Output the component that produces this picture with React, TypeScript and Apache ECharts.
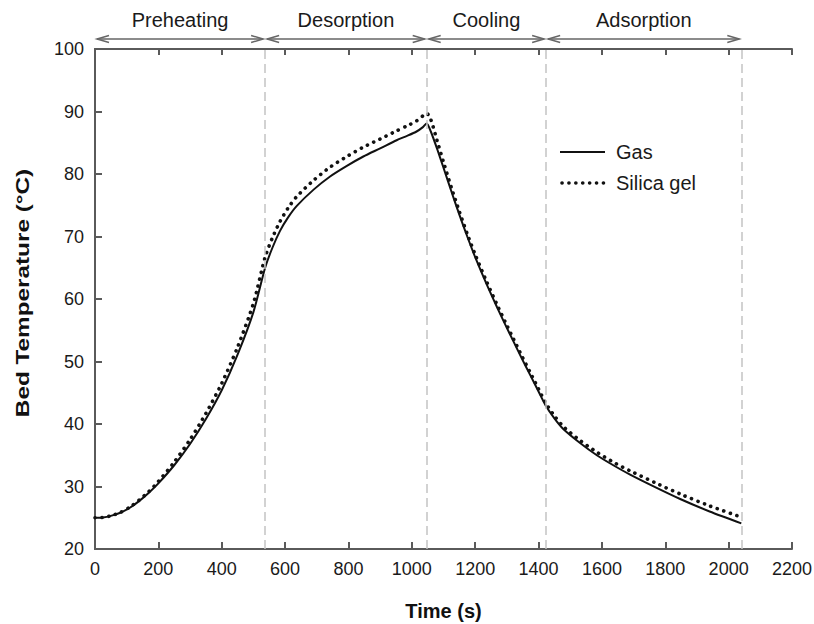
import React, { useEffect, useRef } from "react";
import * as echarts from "echarts";

const times = [0, 25, 50, 80, 110, 140, 170, 200, 250, 300, 350, 400, 450, 500, 537, 560, 584, 610, 637, 690, 742, 795, 847, 900, 952, 985, 1015, 1035, 1047, 1060, 1080, 1100, 1125, 1150, 1175, 1200, 1235, 1268, 1295, 1320, 1347, 1373, 1400, 1422, 1450, 1478, 1530, 1584, 1636, 1689, 1768, 1847, 1940, 2040];
const gasTemp = [25.0, 25.05, 25.3, 25.8, 26.6, 27.7, 29.0, 30.5, 33.4, 36.8, 40.8, 45.4, 51.1, 57.9, 65.0, 68.2, 70.9, 73.1, 74.9, 77.5, 79.6, 81.3, 82.8, 84.1, 85.4, 86.1, 86.8, 87.5, 88.1, 86.8, 84.0, 81.0, 77.2, 73.5, 70.0, 66.7, 62.5, 58.8, 55.9, 53.3, 50.5, 47.9, 45.2, 43.0, 40.9, 39.2, 37.0, 35.0, 33.4, 31.9, 29.9, 28.0, 26.0, 24.1];
const silicaTemp = [25.0, 25.05, 25.3, 25.85, 26.7, 27.85, 29.2, 30.8, 33.9, 37.5, 41.7, 46.5, 52.3, 59.3, 66.7, 69.8, 72.4, 74.6, 76.4, 79.0, 81.1, 82.8, 84.3, 85.6, 86.9, 87.7, 88.5, 89.3, 89.7, 88.7, 85.3, 81.9, 77.8, 74.0, 70.4, 67.1, 62.9, 59.2, 56.3, 53.7, 50.9, 48.3, 45.6, 43.4, 41.3, 39.6, 37.4, 35.5, 33.9, 32.5, 30.6, 28.8, 26.9, 25.1];

const phaseNames = ["Preheating", "Desorption", "Cooling", "Adsorption"];
const phaseBounds = [0, 537, 1047, 1424, 2040];

const seriesNames = ["Gas", "Silica gel"];
const xTitle = "Time (s)";
const yTitle = "Bed Temperature (°C)";
const FONT = "'Liberation Sans', Arial, Helvetica, sans-serif";
const AXIS_COLOR = "#5a5a5a";

export default function App() {
  const ref = useRef<HTMLDivElement>(null);
  useEffect(() => {
    if (!ref.current) return;
    const chart = echarts.init(ref.current, undefined, { renderer: "svg" });
    const gasData = times.map((t, i) => [t, gasTemp[i]]);
    const silicaData = times.map((t, i) => [t, silicaTemp[i]]);
    const phaseData = phaseNames.map((_, i) => [phaseBounds[i], phaseBounds[i + 1], i]);

    const axisLine = { show: true, lineStyle: { color: AXIS_COLOR, width: 2 } };
    const legendX = 560;
    const legendY = [152, 183];
    const option: any = {
      animation: false,
      backgroundColor: "#ffffff",
      textStyle: { fontFamily: FONT },
      grid: { left: 95, right: 22, top: 49, bottom: 75, outerBoundsMode: "none" },
      graphic: [
        { type: "line", shape: { x1: legendX, y1: legendY[0], x2: legendX + 45, y2: legendY[0] }, style: { stroke: "#111", lineWidth: 2 } },
        {
          type: "line",
          shape: { x1: legendX + 2, y1: legendY[1], x2: legendX + 45, y2: legendY[1] },
          style: { stroke: "#111", lineWidth: 3.6, lineDash: [0.1, 6.8], lineCap: "round" },
        },
        { type: "text", x: legendX + 56, y: legendY[0], style: { text: seriesNames[0], fontSize: 20, fill: "#1a1a1a", verticalAlign: "middle", fontFamily: FONT } },
        { type: "text", x: legendX + 56, y: legendY[1], style: { text: seriesNames[1], fontSize: 20, fill: "#1a1a1a", verticalAlign: "middle", fontFamily: FONT } },
        {
          type: "text",
          x: 22,
          y: 293,
          rotation: Math.PI / 2,
          scaleX: 1.28,
          style: { text: yTitle, fontSize: 19, fontWeight: "bold", fill: "#111", align: "center", verticalAlign: "middle", fontFamily: FONT },
        },
      ],
      xAxis: [
        {
          type: "value",
          min: 0,
          max: 2200,
          interval: 200,
          position: "bottom",
          axisLine,
          axisTick: { show: true, inside: true, length: 7, lineStyle: { color: AXIS_COLOR, width: 2 } },
          axisLabel: { fontSize: 18, color: "#1a1a1a", margin: 11, fontFamily: FONT, formatter: (v: number) => String(v) },
          splitLine: { show: false },
          name: xTitle,
          nameLocation: "middle",
          nameGap: 52,
          nameTextStyle: { fontSize: 20, fontWeight: "bold", color: "#111", fontFamily: FONT },
        },
        {
          type: "value",
          min: 0,
          max: 2200,
          interval: 200,
          position: "top",
          axisLine,
          axisTick: { show: true, inside: true, length: 6, lineStyle: { color: AXIS_COLOR, width: 2 } },
          axisLabel: { show: false },
          splitLine: { show: false },
        },
      ],
      yAxis: [
        {
          type: "value",
          min: 20,
          max: 100,
          interval: 10,
          position: "left",
          axisLine,
          axisTick: { show: true, inside: true, length: 7, lineStyle: { color: AXIS_COLOR, width: 2 } },
          axisLabel: { fontSize: 18, color: "#1a1a1a", margin: 11, fontFamily: FONT, formatter: (v: number) => String(v) },
          splitLine: { show: false },
        },
        {
          type: "value",
          min: 20,
          max: 100,
          interval: 10,
          position: "right",
          axisLine,
          axisTick: { show: false },
          axisLabel: { show: false },
          splitLine: { show: false },
        },
      ],
      series: [
        {
          name: "Gas",
          type: "line",
          data: gasData,
          showSymbol: false,
          symbol: "none",
          smooth: 0.25,
          lineStyle: { color: "#111", width: 2 },
          itemStyle: { color: "#111" },
          z: 3,
          markLine: {
            silent: true,
            symbol: ["none", "none"],
            label: { show: false },
            lineStyle: { color: "#c4c4c4", width: 1.5, type: [9, 5] },
            data: phaseBounds.slice(1).map((b) => ({ xAxis: b })),
          },
        },
        {
          name: "Silica gel",
          type: "line",
          data: silicaData,
          showSymbol: false,
          symbol: "none",
          smooth: 0.25,
          lineStyle: { color: "#111", width: 3.6, type: [0.1, 6.8], cap: "round" },
          itemStyle: { color: "#111" },
          z: 4,
        },
        {
          type: "custom",
          silent: true,
          clip: false,
          data: phaseData,
          encode: { x: [0, 1] },
          renderItem: (params: any, api: any) => {
            const s = api.coord([api.value(0), 100]);
            const e = api.coord([api.value(1), 100]);
            const y = s[1] - 10;
            const x0 = s[0] + 2;
            const x1 = e[0] - 2;
            const stroke = "#666";
            const hl = 12;
            const hh = 3.5;
            const name = phaseNames[api.value(2)];
            return {
              type: "group",
              children: [
                { type: "line", shape: { x1: x0, y1: y, x2: x1, y2: y }, style: { stroke, lineWidth: 1.5 } },
                {
                  type: "polyline",
                  shape: { points: [[x0 + hl, y - hh], [x0, y], [x0 + hl, y + hh]] },
                  style: { stroke, fill: "none", lineWidth: 1.5 },
                },
                {
                  type: "polyline",
                  shape: { points: [[x1 - hl, y - hh], [x1, y], [x1 - hl, y + hh]] },
                  style: { stroke, fill: "none", lineWidth: 1.5 },
                },
                {
                  type: "text",
                  x: (x0 + x1) / 2,
                  y: y - 19,
                  style: { text: name, fontSize: 20, fill: "#1a1a1a", align: "center", verticalAlign: "middle", fontFamily: FONT },
                },
              ],
            };
          },
        },
      ],
    };
    chart.setOption(option);
    return () => chart.dispose();
  }, []);
  return <div ref={ref} style={{ position: "absolute", left: 0, top: 0, width: 814, height: 624 }} />;
}
